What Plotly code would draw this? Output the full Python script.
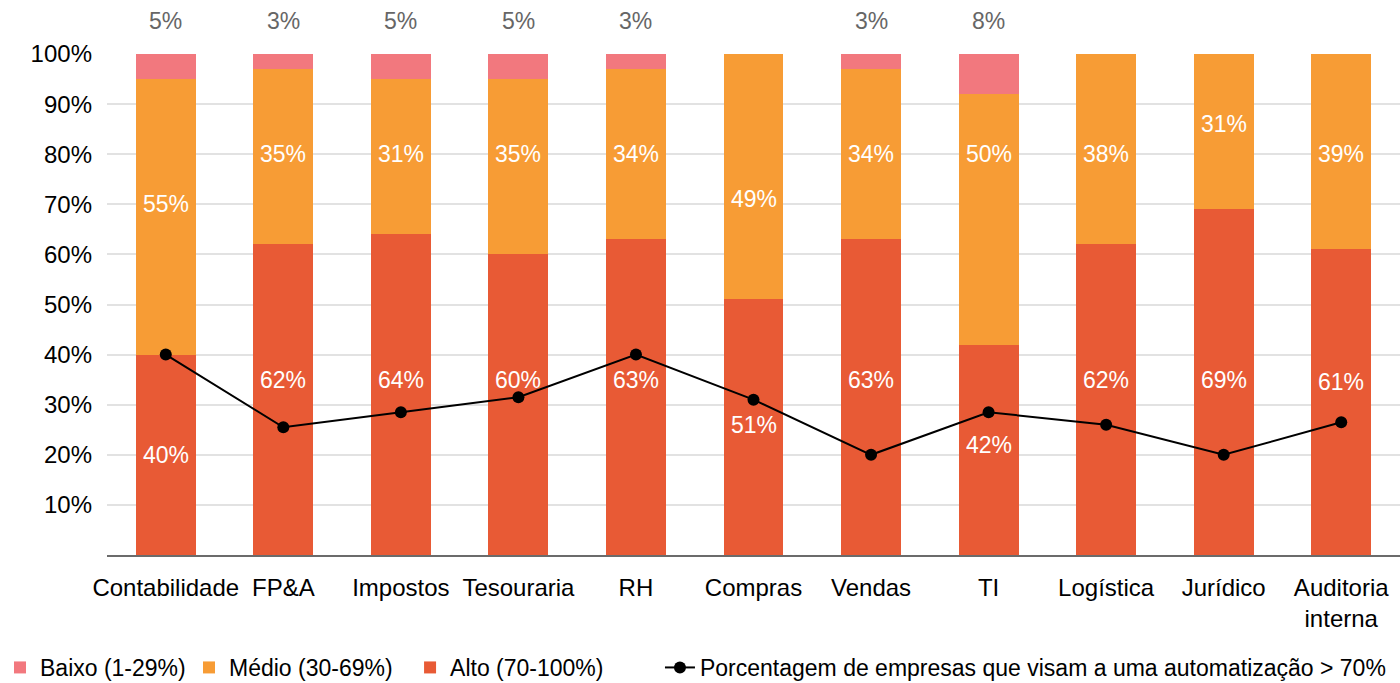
import plotly.graph_objects as go

categories = ["Contabilidade", "FP&A", "Impostos", "Tesouraria", "RH", "Compras",
              "Vendas", "TI", "Logística", "Jurídico", "Auditoria<br>interna"]
alto = [40, 62, 64, 60, 63, 51, 63, 42, 62, 69, 61]
medio = [55, 35, 31, 35, 34, 49, 34, 50, 38, 31, 39]
baixo = [5, 3, 5, 5, 3, 0, 3, 8, 0, 0, 0]
automacao = [40, 25.5, 28.5, 31.5, 40, 31, 20, 28.5, 26, 20, 26.5]
y_ticks = [10, 20, 30, 40, 50, 60, 70, 80, 90, 100]

# heights (in axis %) where the in-bar value labels sit
alto_label_y = [20, 35, 35, 35, 35, 26, 35, 22, 35, 35, 34.5]
medio_label_y = [70, 80, 80, 80, 80, 71, 80, 80, 80, 86, 80]

C_ALTO = "#E85A35"
C_MEDIO = "#F79C35"
C_BAIXO = "#F2787E"
FONT = "Liberation Sans"

fig = go.Figure()
fig.add_bar(x=categories, y=alto, name="Alto (70-100%)", marker_color=C_ALTO,
            marker_line_width=0, width=0.51, legend="legend3", showlegend=True)
fig.add_bar(x=categories, y=medio, name="Médio (30-69%)", marker_color=C_MEDIO,
            marker_line_width=0, width=0.51, legend="legend2", showlegend=True)
fig.add_bar(x=categories, y=baixo, name="Baixo (1-29%)", marker_color=C_BAIXO,
            marker_line_width=0, width=0.51, legend="legend", showlegend=True)
fig.add_scatter(x=categories, y=automacao, mode="lines+markers",
                name="Porcentagem de empresas que visam a uma automatização > 70%",
                line=dict(color="black", width=2),
                marker=dict(color="black", size=12), legend="legend4", showlegend=True)

label_font = dict(color="white", size=23, family=FONT)
annotations = []
for i, (cat, a, m, b) in enumerate(zip(categories, alto, medio, baixo)):
    annotations.append(dict(x=cat, y=alto_label_y[i], text=f"{a}%", showarrow=False,
                            font=label_font))
    annotations.append(dict(x=cat, y=medio_label_y[i], text=f"{m}%", showarrow=False,
                            font=label_font))
    if b:
        annotations.append(dict(x=cat, y=1.0, yref="paper", yanchor="bottom", yshift=18,
                                text=f"{b}%", showarrow=False,
                                font=dict(color="#666666", size=23, family=FONT)))


def legend_at(x):
    # legends placed along the bottom of the canvas, left to right
    return dict(orientation="h", xref="container", yref="container",
                x=x, xanchor="left", y=0.0542, yanchor="top",
                font=dict(size=23, color="black"), itemwidth=30,
                bgcolor="rgba(0,0,0,0)", visible=True)


fig.update_layout(
    width=1400, height=683,
    margin=dict(l=107, r=0, t=54, b=128, autoexpand=False),
    barmode="stack",
    showlegend=True,
    plot_bgcolor="white", paper_bgcolor="white",
    font=dict(family=FONT, size=24, color="black"),
    annotations=annotations,
    legend=legend_at(-0.005),
    legend2=legend_at(0.135),
    legend3=legend_at(0.2929),
    legend4=legend_at(0.4714),
    xaxis=dict(showgrid=False, showline=True, linecolor="#6b6b6b", linewidth=2,
               ticks="", tickfont=dict(size=24), ticklabelstandoff=10,
               range=[-0.5, 10.5]),
    yaxis=dict(range=[0, 100], tickvals=y_ticks, ticktext=[f"{v}%" for v in y_ticks],
               showgrid=True, gridcolor="#e2e2e2", gridwidth=2, zeroline=False,
               showline=False, ticks="", ticklabelstandoff=14, tickfont=dict(size=24)),
)

fig.write_html("out.html")
